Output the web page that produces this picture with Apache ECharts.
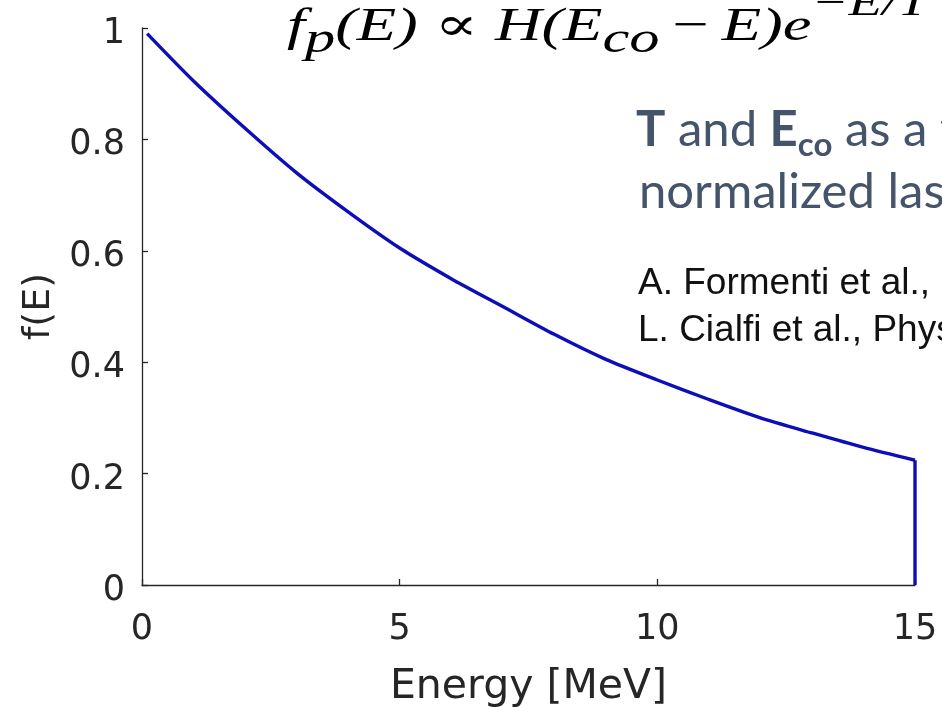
<!DOCTYPE html>
<html>
<head>
<meta charset="utf-8">
<title>Proton spectrum f(E)</title>
<script src="https://cdn.jsdelivr.net/npm/echarts@6/dist/echarts.min.js"></script>
<style>
  html, body { margin: 0; padding: 0; background: #ffffff; }
  #chart { width: 942px; height: 707px; }
</style>
</head>
<body>
<div id="chart"></div>
<script>
// Normalised spectrum f(E): exponential fall-off up to the cut-off energy
const energyMeV = [0.1, 1, 2, 3, 4, 5, 6, 7, 8, 9, 10, 11, 12, 13, 14, 15];
const fValues   = [0.99, 0.905, 0.82, 0.74, 0.67, 0.605, 0.55, 0.50, 0.45, 0.405, 0.368, 0.333, 0.30, 0.273, 0.247, 0.224];
// Hard cut-off at E_co = 15 MeV (vertical drop to zero)
const cutoffE = [15, 15];
const cutoffF = [0.224, 0];

// Axis ticks
const xTicks = [0, 5, 10, 15];
const yTicks = [0, 0.2, 0.4, 0.6, 0.8, 1];
const xTitle = 'Energy [MeV]';
const yTitle = 'f(E)';

// Side notes
const noteLine1 = [['T', 'b'], [' and ', 'r'], ['E', 'b'], ['co', 'bs'], [' as a function', 'r']];
const noteLine2 = [['normalized laser', 'r']];
const citations = ['A. Formenti et al.,', 'L. Cialfi et al., Phys.'];

// Formula pieces: text and kind (main / subscript / relation / binary op / superscript)
const formulaParts = [
  ['f', 'main'], ['p', 'sub'], ['(E)', 'main'], ['\u221D', 'rel'], ['H(E', 'main'],
  ['co', 'sub'], ['\u2212', 'bin'], ['E)e', 'main'], ['\u2212E/T', 'sup']
];

const axisInk = '#262626';
const curveBlue = '#0e0eb8';
const slate = '#44546a';

// ---- text measuring helpers (canvas metrics) ----
const mctx = document.createElement('canvas').getContext('2d');
function textWidth(font, s) { mctx.font = font; mctx.textBaseline = 'alphabetic'; return mctx.measureText(s).width; }
function middleToBaseline(font) {
  mctx.font = font; mctx.textBaseline = 'middle';
  const d = mctx.measureText('H').actualBoundingBoxDescent;
  mctx.textBaseline = 'alphabetic';
  return d;
}
function textAt(s, x, baseline, font, fill) {
  return {
    type: 'text', x: x, y: baseline - middleToBaseline(font), silent: true,
    style: { text: s, font: font, fill: fill, align: 'left', verticalAlign: 'middle',
             textAlign: 'left', textVerticalAlign: 'middle' }
  };
}

// ---- formula ----
const serif = '"Liberation Serif", "DejaVu Serif", serif';
const fFonts = {
  main: { font: 'italic 47px ' + serif, base: 40, pad: 0 },
  sub:  { font: 'italic 44px ' + serif, base: 52, pad: 0 },
  rel:  { font: '47px ' + serif, base: 40, pad: 0.26 * 47 },
  bin:  { font: '47px ' + serif, base: 40, pad: 0.2 * 47 },
  sup:  { font: 'italic 40px ' + serif, base: 15, pad: 0 }
};
const formulaChildren = [];
let fx = 0;
formulaParts.forEach(([s, kind]) => {
  const f = fFonts[kind];
  fx += f.pad;
  formulaChildren.push(textAt(s, fx, f.base, f.font, '#000000'));
  fx += textWidth(f.font, s) + f.pad;
});
const formulaLeft = 287, formulaRight = 928;
const formulaGroup = {
  type: 'group', x: formulaLeft, y: 0, scaleX: (formulaRight - formulaLeft) / fx,
  children: formulaChildren
};

// ---- side notes ----
const sans = 'Lato, "Open Sans", sans-serif';
const noteFonts = {
  r:  { font: '49px ' + sans, dy: 0 },
  b:  { font: 'bold 49px ' + sans, dy: 0 },
  bs: { font: 'bold 33px ' + sans, dy: 10 }
};
function runLine(parts, x0, baseline, fill) {
  const out = [];
  let x = x0;
  parts.forEach(([s, k]) => {
    const f = noteFonts[k];
    out.push(textAt(s, x, baseline + f.dy, f.font, fill));
    x += textWidth(f.font, s);
  });
  return out;
}
const notes = []
  .concat(runLine(noteLine1, 636, 146, slate))
  .concat(runLine(noteLine2, 639, 208, slate));
const citeFont = '37px "Liberation Sans", Arial, sans-serif';
citations.forEach((c, i) => notes.push(textAt(c, 638, 294 + i * 47, citeFont, '#111111')));

// ---- chart ----
const chart = echarts.init(document.getElementById('chart'), null, { renderer: 'canvas' });
const tickFont = 'DejaVu Sans';
const lineSeries = (xs, ys) => ({
  type: 'line',
  data: xs.map((e, i) => [e, ys[i]]),
  showSymbol: false, symbol: 'none', clip: false,
  lineStyle: { color: curveBlue, width: 3.4, join: 'round', cap: 'butt' },
  itemStyle: { color: curveBlue }
});
const option = {
  backgroundColor: '#ffffff',
  animation: false,
  grid: { left: 142, right: 27, top: 28, bottom: 122, containLabel: false, outerBoundsMode: 'none' },
  xAxis: {
    type: 'value',
    min: xTicks[0], max: xTicks[xTicks.length - 1], interval: xTicks[1] - xTicks[0],
    name: xTitle, nameLocation: 'middle', nameGap: 82,
    nameTextStyle: { fontFamily: tickFont, fontSize: 41, color: axisInk },
    axisLine: { show: true, onZero: false, lineStyle: { color: axisInk, width: 1.3 } },
    axisTick: { show: true, inside: true, length: 6, lineStyle: { color: axisInk, width: 1.3 } },
    axisLabel: { fontFamily: tickFont, fontSize: 35, color: axisInk, margin: 27 },
    splitLine: { show: false }
  },
  yAxis: {
    type: 'value',
    min: yTicks[0], max: yTicks[yTicks.length - 1], interval: yTicks[1] - yTicks[0],
    name: yTitle, nameLocation: 'middle', nameGap: 82,
    nameTextStyle: { fontFamily: tickFont, fontSize: 38, color: axisInk },
    axisLine: { show: true, onZero: false, lineStyle: { color: axisInk, width: 1.3 } },
    axisTick: { show: true, inside: true, length: 6, lineStyle: { color: axisInk, width: 1.3 } },
    axisLabel: { fontFamily: tickFont, fontSize: 35, color: axisInk, margin: 17,
                 verticalAlign: 'top', lineHeight: 12 },
    splitLine: { show: false }
  },
  series: [
    Object.assign(lineSeries(energyMeV, fValues), { smooth: 0.25 }),
    lineSeries(cutoffE, cutoffF)
  ],
  graphic: [formulaGroup].concat(notes)
};
chart.setOption(option);
</script>
</body>
</html>
